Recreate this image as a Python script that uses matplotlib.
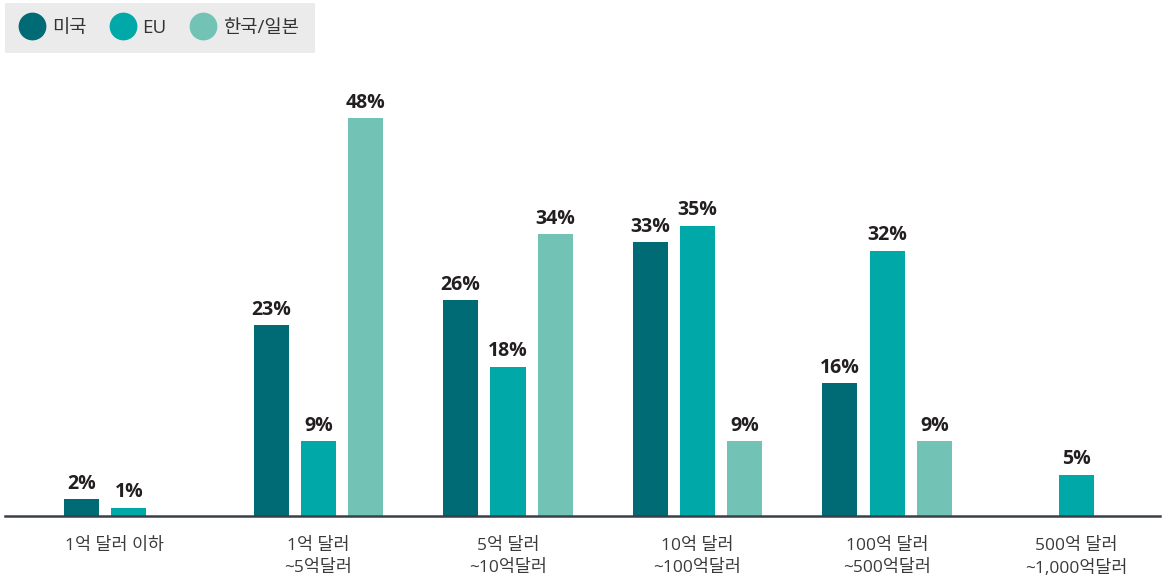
import matplotlib.pyplot as plt
from matplotlib.lines import Line2D
from matplotlib.transforms import ScaledTranslation
import numpy as np

plt.rcParams['font.family'] = ['Open Sans', 'Noto Sans CJK KR', 'DejaVu Sans']

categories = ['1억 달러 이하', '1억 달러\n~5억달러', '5억 달러\n~10억달러',
              '10억 달러\n~100억달러', '100억 달러\n~500억달러', '500억 달러\n~1,000억달러']
series = ['미국', 'EU', '한국/일본']
us = [2, 23, 26, 33, 16, np.nan]
eu = [1, 9, 18, 35, 32, 5]
kr_jp = [np.nan, 48, 34, 9, 9, np.nan]
colors = ['#006b75', '#00a9a8', '#72c3b5']


def main():
    fig = plt.figure(figsize=(11.65, 5.83), dpi=100)
    ax = fig.add_axes([5 / 1165, 67 / 583, 1155 / 1165, 414.5 / 583])

    x = np.arange(len(categories))
    width = 0.185
    offsets = [-0.25, 0.0, 0.25]
    for vals, off, color in zip([us, eu, kr_jp], offsets, colors):
        vals = np.array(vals, dtype=float)
        bars = ax.bar(x + off, np.nan_to_num(vals), width, color=color, zorder=2)
        for b, v in zip(bars, vals):
            if np.isnan(v):
                continue
            ax.annotate(f'{v:.0f}%', (b.get_x() + b.get_width() / 2, v),
                        xytext=(0, 4), textcoords='offset points',
                        ha='center', va='bottom', fontsize=14,
                        fontweight='bold', color='#231f20')

    ax.set_xlim(-0.654, 5.44)
    ax.set_ylim(0, 50)
    ax.set_yticks([])
    ax.set_xticks(x)
    ax.set_xticklabels(categories, fontsize=12.5, color='#3a3a3a', linespacing=1.45)
    ax.tick_params(axis='x', length=0, pad=16)
    # first label sits a little left of its group
    lab0 = ax.get_xticklabels()[0]
    lab0.set_transform(lab0.get_transform() + ScaledTranslation(-0.14, 0, fig.dpi_scale_trans))
    for side in ['top', 'right', 'left']:
        ax.spines[side].set_visible(False)
    ax.spines['bottom'].set_color('#3b3f4a')
    ax.spines['bottom'].set_linewidth(1.8)
    ax.spines['bottom'].set_zorder(3)

    handles = [Line2D([], [], marker='o', linestyle='none', markersize=19,
                      markerfacecolor=c, markeredgecolor=c) for c in colors]
    leg = fig.legend(handles, series, loc='upper left',
                     bbox_to_anchor=(5 / 1165, 1 - 3 / 583), ncol=3,
                     frameon=True, fancybox=False, fontsize=13.5,
                     handlelength=1.2, handletextpad=0.45, columnspacing=1.35,
                     borderpad=0.85, borderaxespad=0)
    frame = leg.get_frame()
    frame.set_facecolor('#ebebeb')
    frame.set_edgecolor('none')
    frame.set_alpha(1)
    for t in leg.get_texts():
        t.set_color('#333333')

    fig.savefig('out.png', dpi=100)


if __name__ == '__main__':
    main()
